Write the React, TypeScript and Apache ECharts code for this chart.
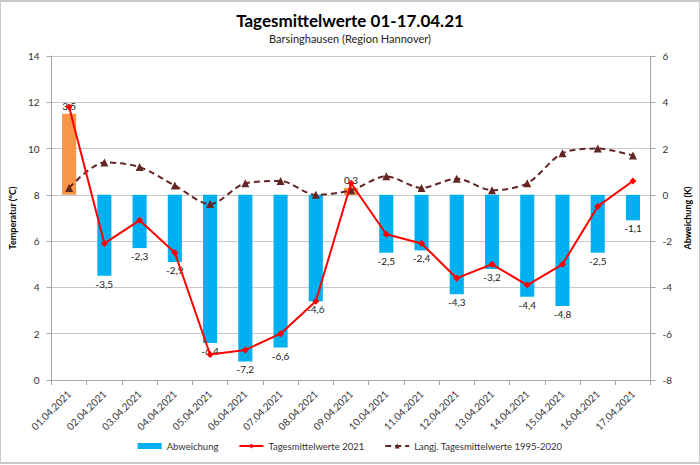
import React, { useEffect, useRef } from "react";
import * as echarts from "echarts";

const categories = [
  "01.04.2021", "02.04.2021", "03.04.2021", "04.04.2021", "05.04.2021", "06.04.2021",
  "07.04.2021", "08.04.2021", "09.04.2021", "10.04.2021", "11.04.2021", "12.04.2021",
  "13.04.2021", "14.04.2021", "15.04.2021", "16.04.2021", "17.04.2021",
];
const abweichung = [3.5, -3.5, -2.3, -2.9, -6.4, -7.2, -6.6, -4.6, 0.3, -2.5, -2.4, -4.3, -3.2, -4.4, -4.8, -2.5, -1.1];
const tagesmittel2021 = [11.8, 5.9, 6.9, 5.5, 1.1, 1.3, 2.0, 3.4, 8.5, 6.3, 5.9, 4.4, 5.0, 4.1, 5.0, 7.5, 8.6];
const langjaehrig = [8.3, 9.4, 9.2, 8.4, 7.6, 8.5, 8.6, 8.0, 8.2, 8.8, 8.3, 8.7, 8.2, 8.5, 9.8, 10.0, 9.7];

const FONT = "Lato, 'Open Sans', sans-serif";

export default function App() {
  const ref = useRef<HTMLDivElement>(null);
  useEffect(() => {
    if (!ref.current) return;
    const chart = echarts.init(ref.current, null, { renderer: "svg" });
    const fmt = (v: number) => String(v).replace(".", ",");
    chart.setOption({
      animation: false,
      backgroundColor: "#ffffff",
      textStyle: { fontFamily: FONT },
      graphic: [
        {
          type: "rect",
          shape: { x: 0, y: 1, width: 700, height: 462 },
          style: { fill: "none", stroke: "#c8c8c8", lineWidth: 2 },
          silent: true,
        },
      ],
      title: {
        text: "Tagesmittelwerte 01-17.04.21",
        subtext: "Barsinghausen (Region Hannover)",
        left: "center",
        top: 7,
        itemGap: 4,
        textStyle: { fontFamily: FONT, fontSize: 17, fontWeight: "bold", color: "#000" },
        subtextStyle: { fontFamily: FONT, fontSize: 11, color: "#222" },
      },
      legend: {
        bottom: 9,
        left: "center",
        itemGap: 20,
        itemWidth: 24,
        itemHeight: 6,
        textStyle: { fontFamily: FONT, fontSize: 9.5, color: "#333" },
        data: [
          { name: "Abweichung", icon: "rect", itemStyle: { color: "#00b0f0" } },
          { name: "Tagesmittelwerte 2021" },
          { name: "Langj. Tagesmittelwerte 1995-2020" },
        ],
      },
      grid: { left: 42, right: 41, top: 56, bottom: 85 },
      xAxis: {
        type: "category",
        data: categories,
        boundaryGap: true,
        axisLine: { lineStyle: { color: "#a6a6a6" } },
        axisTick: { show: true, alignWithLabel: false, lineStyle: { color: "#a6a6a6" } },
        axisLabel: { interval: 0, rotate: 45, fontSize: 10, color: "#333", margin: 12, fontFamily: FONT },
      },
      yAxis: [
        {
          type: "value",
          min: 0,
          max: 14,
          interval: 2,
          name: "Temperatur (°C)",
          nameLocation: "middle",
          nameRotate: 90,
          nameGap: 28,
          nameTextStyle: { fontFamily: FONT, fontSize: 9, fontWeight: "bold", color: "#000" },
          axisLine: { show: true, lineStyle: { color: "#a6a6a6" } },
          axisTick: { show: true, lineStyle: { color: "#a6a6a6" } },
          axisLabel: { fontSize: 10, color: "#333", margin: 12 },
          splitLine: { show: true, lineStyle: { color: "#c8c8c8" } },
        },
        {
          type: "value",
          min: -8,
          max: 6,
          interval: 2,
          name: "Abweichung (K)",
          nameLocation: "middle",
          nameRotate: 90,
          nameGap: 26,
          nameTextStyle: { fontFamily: FONT, fontSize: 9, fontWeight: "bold", color: "#000" },
          axisLine: { show: true, lineStyle: { color: "#a6a6a6" } },
          axisTick: { show: true, lineStyle: { color: "#a6a6a6" } },
          axisLabel: { fontSize: 10, color: "#333", margin: 12 },
          splitLine: { show: false },
        },
      ],
      series: [
        {
          name: "Abweichung",
          type: "bar",
          yAxisIndex: 1,
          barWidth: "40%",
          data: abweichung.map((v) => ({
            value: v,
            itemStyle: { color: v >= 0 ? "#f79646" : "#00b0f0" },
            label: { position: v >= 0 ? "top" : "bottom" },
          })),
          label: {
            show: true,
            fontSize: 10,
            color: "#222",
            distance: 3,
            fontFamily: FONT,
            formatter: (p: any) => fmt(p.value),
          },
          z: 1,
        },
        {
          name: "Tagesmittelwerte 2021",
          type: "line",
          yAxisIndex: 0,
          data: tagesmittel2021,
          symbol: "diamond",
          symbolSize: 7,
          lineStyle: { color: "#ff0000", width: 2 },
          itemStyle: { color: "#ff0000" },
          z: 4,
        },
        {
          name: "Langj. Tagesmittelwerte 1995-2020",
          type: "line",
          yAxisIndex: 0,
          data: langjaehrig,
          smooth: 0.3,
          symbol: "triangle",
          symbolSize: 8,
          lineStyle: { color: "#632523", width: 2, type: [6, 4] },
          itemStyle: { color: "#632523" },
          z: 3,
        },
      ],
    });
    return () => chart.dispose();
  }, []);
  return <div ref={ref} style={{ position: "absolute", left: 0, top: 0, width: 700, height: 465 }} />;
}
